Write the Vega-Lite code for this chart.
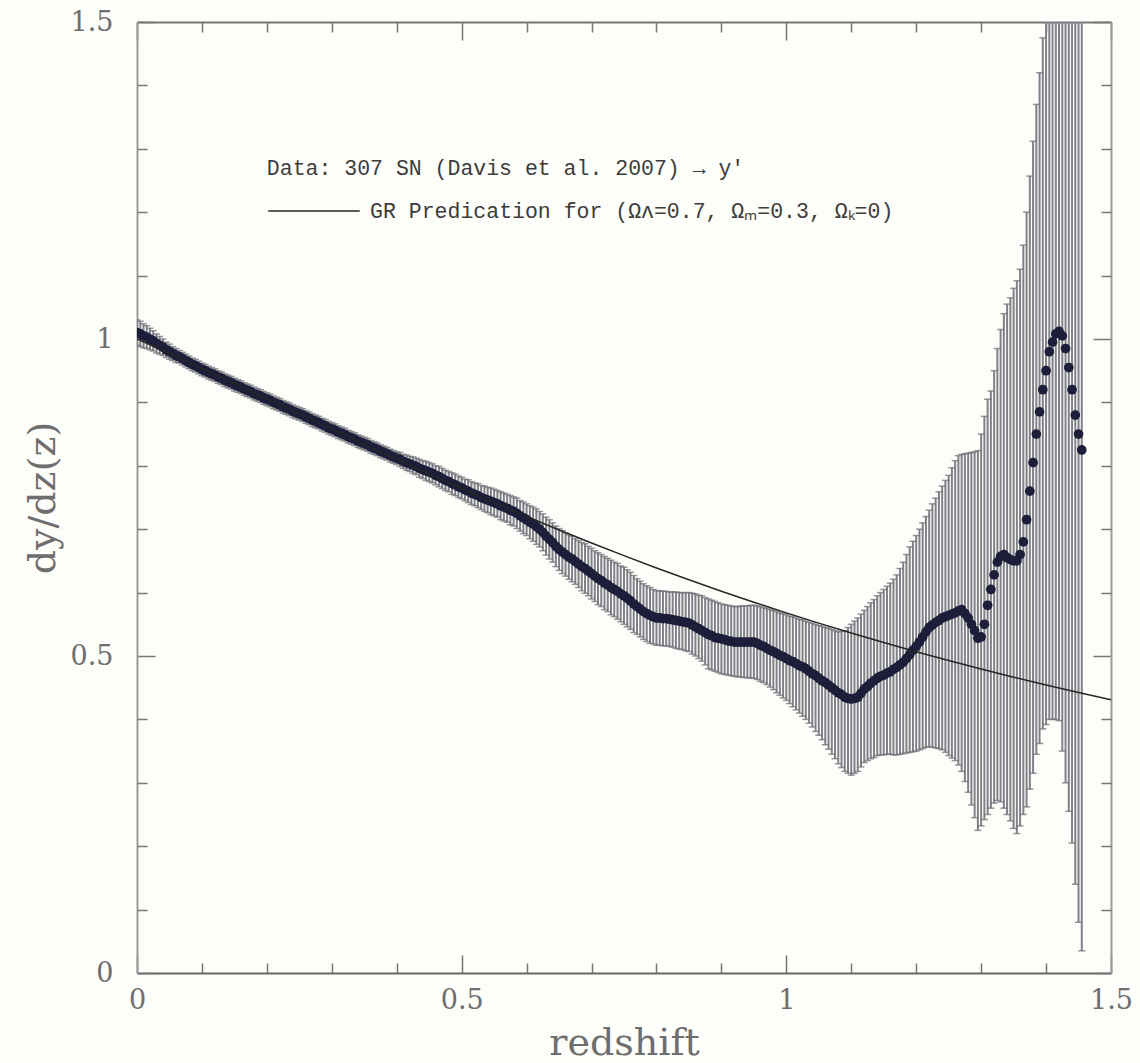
{
"$schema": "https://vega.github.io/schema/vega-lite/v6.json",
"width": 974, "height": 951,
"autosize": {"type": "none"},
"padding": {"left": 137, "top": 22, "right": 29, "bottom": 90},
"background": "#fdfdf9",
"config": {
  "view": {"stroke": null},
  "axis": {"labelFont": "DejaVu Serif", "titleFont": "DejaVu Serif", "labelFontSize": 27, "titleFontSize": 38, "labelColor": "#6e6e6e", "titleColor": "#6e6e6e", "titleFontWeight": "normal", "grid": false, "tickColor": "#777777", "tickWidth": 1.5, "domainColor": "#888888", "domainWidth": 2}
},
"datasets": {
"sn": [
{"z":0.000,"v":1.010,"lo":0.990,"hi":1.030},{"z":0.005,"v":1.008,"lo":0.988,"hi":1.028},{"z":0.010,"v":1.005,"lo":0.986,"hi":1.024},{"z":0.015,"v":1.003,"lo":0.985,"hi":1.021},{"z":0.020,"v":1.000,"lo":0.983,"hi":1.017},{"z":0.025,"v":0.997,"lo":0.981,"hi":1.013},{"z":0.030,"v":0.993,"lo":0.978,"hi":1.008},{"z":0.035,"v":0.990,"lo":0.976,"hi":1.004},{"z":0.040,"v":0.987,"lo":0.974,"hi":1.000},{"z":0.045,"v":0.983,"lo":0.971,"hi":0.995},
{"z":0.050,"v":0.980,"lo":0.968,"hi":0.992},{"z":0.055,"v":0.977,"lo":0.966,"hi":0.988},{"z":0.060,"v":0.974,"lo":0.963,"hi":0.985},{"z":0.065,"v":0.972,"lo":0.962,"hi":0.982},{"z":0.070,"v":0.969,"lo":0.959,"hi":0.979},{"z":0.075,"v":0.966,"lo":0.956,"hi":0.976},{"z":0.080,"v":0.963,"lo":0.953,"hi":0.973},{"z":0.085,"v":0.960,"lo":0.950,"hi":0.970},{"z":0.090,"v":0.958,"lo":0.948,"hi":0.968},{"z":0.095,"v":0.955,"lo":0.945,"hi":0.965},
{"z":0.100,"v":0.952,"lo":0.942,"hi":0.962},{"z":0.105,"v":0.950,"lo":0.940,"hi":0.960},{"z":0.110,"v":0.947,"lo":0.937,"hi":0.957},{"z":0.115,"v":0.945,"lo":0.935,"hi":0.955},{"z":0.120,"v":0.943,"lo":0.933,"hi":0.953},{"z":0.125,"v":0.940,"lo":0.930,"hi":0.950},{"z":0.130,"v":0.938,"lo":0.928,"hi":0.948},{"z":0.135,"v":0.935,"lo":0.925,"hi":0.945},{"z":0.140,"v":0.933,"lo":0.923,"hi":0.943},{"z":0.145,"v":0.931,"lo":0.921,"hi":0.941},
{"z":0.150,"v":0.928,"lo":0.918,"hi":0.938},{"z":0.155,"v":0.926,"lo":0.916,"hi":0.936},{"z":0.160,"v":0.924,"lo":0.914,"hi":0.934},{"z":0.165,"v":0.921,"lo":0.911,"hi":0.931},{"z":0.170,"v":0.919,"lo":0.909,"hi":0.929},{"z":0.175,"v":0.917,"lo":0.907,"hi":0.927},{"z":0.180,"v":0.914,"lo":0.904,"hi":0.924},{"z":0.185,"v":0.912,"lo":0.902,"hi":0.922},{"z":0.190,"v":0.910,"lo":0.900,"hi":0.920},{"z":0.195,"v":0.907,"lo":0.897,"hi":0.917},
{"z":0.200,"v":0.905,"lo":0.895,"hi":0.915},{"z":0.205,"v":0.903,"lo":0.893,"hi":0.913},{"z":0.210,"v":0.900,"lo":0.890,"hi":0.910},{"z":0.215,"v":0.898,"lo":0.888,"hi":0.908},{"z":0.220,"v":0.896,"lo":0.886,"hi":0.906},{"z":0.225,"v":0.893,"lo":0.883,"hi":0.903},{"z":0.230,"v":0.891,"lo":0.881,"hi":0.901},{"z":0.235,"v":0.889,"lo":0.879,"hi":0.899},{"z":0.240,"v":0.886,"lo":0.876,"hi":0.896},{"z":0.245,"v":0.884,"lo":0.874,"hi":0.894},
{"z":0.250,"v":0.882,"lo":0.872,"hi":0.892},{"z":0.255,"v":0.880,"lo":0.870,"hi":0.890},{"z":0.260,"v":0.877,"lo":0.867,"hi":0.887},{"z":0.265,"v":0.875,"lo":0.865,"hi":0.885},{"z":0.270,"v":0.872,"lo":0.862,"hi":0.882},{"z":0.275,"v":0.870,"lo":0.860,"hi":0.880},{"z":0.280,"v":0.868,"lo":0.858,"hi":0.878},{"z":0.285,"v":0.865,"lo":0.855,"hi":0.875},{"z":0.290,"v":0.863,"lo":0.853,"hi":0.873},{"z":0.295,"v":0.860,"lo":0.850,"hi":0.870},
{"z":0.300,"v":0.858,"lo":0.848,"hi":0.868},{"z":0.305,"v":0.856,"lo":0.846,"hi":0.866},{"z":0.310,"v":0.853,"lo":0.843,"hi":0.863},{"z":0.315,"v":0.851,"lo":0.841,"hi":0.861},{"z":0.320,"v":0.849,"lo":0.839,"hi":0.859},{"z":0.325,"v":0.846,"lo":0.836,"hi":0.856},{"z":0.330,"v":0.844,"lo":0.834,"hi":0.854},{"z":0.335,"v":0.842,"lo":0.832,"hi":0.852},{"z":0.340,"v":0.839,"lo":0.829,"hi":0.849},{"z":0.345,"v":0.837,"lo":0.827,"hi":0.847},
{"z":0.350,"v":0.835,"lo":0.825,"hi":0.845},{"z":0.355,"v":0.833,"lo":0.823,"hi":0.843},{"z":0.360,"v":0.830,"lo":0.820,"hi":0.840},{"z":0.365,"v":0.828,"lo":0.818,"hi":0.838},{"z":0.370,"v":0.826,"lo":0.816,"hi":0.836},{"z":0.375,"v":0.823,"lo":0.813,"hi":0.833},{"z":0.380,"v":0.821,"lo":0.811,"hi":0.831},{"z":0.385,"v":0.819,"lo":0.809,"hi":0.829},{"z":0.390,"v":0.816,"lo":0.806,"hi":0.826},{"z":0.395,"v":0.814,"lo":0.804,"hi":0.824},
{"z":0.400,"v":0.812,"lo":0.802,"hi":0.822},{"z":0.405,"v":0.810,"lo":0.799,"hi":0.821},{"z":0.410,"v":0.807,"lo":0.796,"hi":0.818},{"z":0.415,"v":0.805,"lo":0.793,"hi":0.817},{"z":0.420,"v":0.803,"lo":0.791,"hi":0.815},{"z":0.425,"v":0.801,"lo":0.788,"hi":0.814},{"z":0.430,"v":0.799,"lo":0.786,"hi":0.812},{"z":0.435,"v":0.796,"lo":0.782,"hi":0.810},{"z":0.440,"v":0.794,"lo":0.780,"hi":0.808},{"z":0.445,"v":0.792,"lo":0.777,"hi":0.807},
{"z":0.450,"v":0.790,"lo":0.775,"hi":0.805},{"z":0.455,"v":0.788,"lo":0.773,"hi":0.803},{"z":0.460,"v":0.785,"lo":0.770,"hi":0.800},{"z":0.465,"v":0.783,"lo":0.767,"hi":0.799},{"z":0.470,"v":0.780,"lo":0.764,"hi":0.796},{"z":0.475,"v":0.777,"lo":0.761,"hi":0.793},{"z":0.480,"v":0.775,"lo":0.759,"hi":0.791},{"z":0.485,"v":0.772,"lo":0.755,"hi":0.789},{"z":0.490,"v":0.770,"lo":0.753,"hi":0.787},{"z":0.495,"v":0.767,"lo":0.750,"hi":0.784},
{"z":0.500,"v":0.765,"lo":0.748,"hi":0.782},{"z":0.505,"v":0.762,"lo":0.745,"hi":0.779},{"z":0.510,"v":0.760,"lo":0.742,"hi":0.778},{"z":0.515,"v":0.757,"lo":0.739,"hi":0.775},{"z":0.520,"v":0.755,"lo":0.737,"hi":0.773},{"z":0.525,"v":0.753,"lo":0.734,"hi":0.772},{"z":0.530,"v":0.750,"lo":0.731,"hi":0.769},{"z":0.535,"v":0.748,"lo":0.728,"hi":0.768},{"z":0.540,"v":0.746,"lo":0.726,"hi":0.766},{"z":0.545,"v":0.744,"lo":0.723,"hi":0.765},
{"z":0.550,"v":0.742,"lo":0.721,"hi":0.763},{"z":0.555,"v":0.740,"lo":0.719,"hi":0.761},{"z":0.560,"v":0.737,"lo":0.715,"hi":0.759},{"z":0.565,"v":0.735,"lo":0.713,"hi":0.757},{"z":0.570,"v":0.733,"lo":0.711,"hi":0.755},{"z":0.575,"v":0.730,"lo":0.707,"hi":0.753},{"z":0.580,"v":0.728,"lo":0.705,"hi":0.751},{"z":0.585,"v":0.725,"lo":0.701,"hi":0.749},{"z":0.590,"v":0.721,"lo":0.697,"hi":0.745},{"z":0.595,"v":0.718,"lo":0.693,"hi":0.743},
{"z":0.600,"v":0.715,"lo":0.690,"hi":0.740},{"z":0.605,"v":0.711,"lo":0.685,"hi":0.737},{"z":0.610,"v":0.708,"lo":0.681,"hi":0.735},{"z":0.615,"v":0.704,"lo":0.676,"hi":0.732},{"z":0.620,"v":0.700,"lo":0.672,"hi":0.728},{"z":0.625,"v":0.695,"lo":0.666,"hi":0.724},{"z":0.630,"v":0.689,"lo":0.659,"hi":0.719},{"z":0.635,"v":0.684,"lo":0.653,"hi":0.715},{"z":0.640,"v":0.679,"lo":0.648,"hi":0.710},{"z":0.645,"v":0.673,"lo":0.641,"hi":0.705},
{"z":0.650,"v":0.668,"lo":0.635,"hi":0.701},{"z":0.655,"v":0.664,"lo":0.630,"hi":0.698},{"z":0.660,"v":0.660,"lo":0.626,"hi":0.694},{"z":0.665,"v":0.656,"lo":0.621,"hi":0.691},{"z":0.670,"v":0.653,"lo":0.617,"hi":0.689},{"z":0.675,"v":0.649,"lo":0.613,"hi":0.685},{"z":0.680,"v":0.645,"lo":0.608,"hi":0.682},{"z":0.685,"v":0.641,"lo":0.603,"hi":0.679},{"z":0.690,"v":0.638,"lo":0.599,"hi":0.677},{"z":0.695,"v":0.634,"lo":0.595,"hi":0.673},
{"z":0.700,"v":0.630,"lo":0.590,"hi":0.670},{"z":0.705,"v":0.626,"lo":0.586,"hi":0.666},{"z":0.710,"v":0.622,"lo":0.581,"hi":0.663},{"z":0.715,"v":0.619,"lo":0.578,"hi":0.660},{"z":0.720,"v":0.615,"lo":0.573,"hi":0.657},{"z":0.725,"v":0.612,"lo":0.570,"hi":0.654},{"z":0.730,"v":0.608,"lo":0.565,"hi":0.651},{"z":0.735,"v":0.605,"lo":0.562,"hi":0.648},{"z":0.740,"v":0.602,"lo":0.558,"hi":0.646},{"z":0.745,"v":0.598,"lo":0.554,"hi":0.642},
{"z":0.750,"v":0.595,"lo":0.550,"hi":0.640},{"z":0.755,"v":0.591,"lo":0.546,"hi":0.636},{"z":0.760,"v":0.587,"lo":0.542,"hi":0.632},{"z":0.765,"v":0.582,"lo":0.537,"hi":0.627},{"z":0.770,"v":0.578,"lo":0.534,"hi":0.622},{"z":0.775,"v":0.574,"lo":0.530,"hi":0.618},{"z":0.780,"v":0.570,"lo":0.526,"hi":0.614},{"z":0.785,"v":0.567,"lo":0.523,"hi":0.611},{"z":0.790,"v":0.564,"lo":0.520,"hi":0.608},{"z":0.795,"v":0.562,"lo":0.519,"hi":0.605},
{"z":0.800,"v":0.560,"lo":0.517,"hi":0.603},{"z":0.805,"v":0.560,"lo":0.517,"hi":0.603},{"z":0.810,"v":0.559,"lo":0.516,"hi":0.602},{"z":0.815,"v":0.559,"lo":0.516,"hi":0.602},{"z":0.820,"v":0.558,"lo":0.515,"hi":0.601},{"z":0.825,"v":0.557,"lo":0.514,"hi":0.601},{"z":0.830,"v":0.556,"lo":0.512,"hi":0.601},{"z":0.835,"v":0.555,"lo":0.511,"hi":0.600},{"z":0.840,"v":0.554,"lo":0.510,"hi":0.600},{"z":0.845,"v":0.553,"lo":0.508,"hi":0.600},
{"z":0.850,"v":0.552,"lo":0.507,"hi":0.600},{"z":0.855,"v":0.549,"lo":0.503,"hi":0.599},{"z":0.860,"v":0.546,"lo":0.500,"hi":0.598},{"z":0.865,"v":0.543,"lo":0.496,"hi":0.596},{"z":0.870,"v":0.540,"lo":0.492,"hi":0.595},{"z":0.875,"v":0.537,"lo":0.486,"hi":0.592},{"z":0.880,"v":0.534,"lo":0.480,"hi":0.590},{"z":0.885,"v":0.532,"lo":0.478,"hi":0.588},{"z":0.890,"v":0.529,"lo":0.476,"hi":0.586},{"z":0.895,"v":0.528,"lo":0.474,"hi":0.584},
{"z":0.900,"v":0.527,"lo":0.472,"hi":0.582},{"z":0.905,"v":0.526,"lo":0.471,"hi":0.581},{"z":0.910,"v":0.524,"lo":0.470,"hi":0.580},{"z":0.915,"v":0.523,"lo":0.469,"hi":0.579},{"z":0.920,"v":0.522,"lo":0.468,"hi":0.578},{"z":0.925,"v":0.522,"lo":0.467,"hi":0.578},{"z":0.930,"v":0.522,"lo":0.467,"hi":0.579},{"z":0.935,"v":0.522,"lo":0.466,"hi":0.579},{"z":0.940,"v":0.522,"lo":0.466,"hi":0.579},{"z":0.945,"v":0.522,"lo":0.465,"hi":0.580},
{"z":0.950,"v":0.522,"lo":0.465,"hi":0.580},{"z":0.955,"v":0.520,"lo":0.463,"hi":0.579},{"z":0.960,"v":0.517,"lo":0.460,"hi":0.578},{"z":0.965,"v":0.515,"lo":0.458,"hi":0.576},{"z":0.970,"v":0.512,"lo":0.455,"hi":0.575},{"z":0.975,"v":0.509,"lo":0.451,"hi":0.573},{"z":0.980,"v":0.507,"lo":0.447,"hi":0.572},{"z":0.985,"v":0.504,"lo":0.442,"hi":0.570},{"z":0.990,"v":0.501,"lo":0.438,"hi":0.568},{"z":0.995,"v":0.499,"lo":0.434,"hi":0.567},
{"z":1.000,"v":0.496,"lo":0.430,"hi":0.565},{"z":1.005,"v":0.493,"lo":0.425,"hi":0.563},{"z":1.010,"v":0.491,"lo":0.420,"hi":0.562},{"z":1.015,"v":0.488,"lo":0.415,"hi":0.560},{"z":1.020,"v":0.485,"lo":0.410,"hi":0.558},{"z":1.025,"v":0.483,"lo":0.405,"hi":0.557},{"z":1.030,"v":0.480,"lo":0.400,"hi":0.555},{"z":1.035,"v":0.476,"lo":0.394,"hi":0.553},{"z":1.040,"v":0.472,"lo":0.388,"hi":0.552},{"z":1.045,"v":0.469,"lo":0.381,"hi":0.550},
{"z":1.050,"v":0.465,"lo":0.375,"hi":0.548},{"z":1.055,"v":0.461,"lo":0.368,"hi":0.547},{"z":1.060,"v":0.458,"lo":0.360,"hi":0.545},{"z":1.065,"v":0.454,"lo":0.353,"hi":0.544},{"z":1.070,"v":0.450,"lo":0.345,"hi":0.542},{"z":1.075,"v":0.446,"lo":0.338,"hi":0.540},{"z":1.080,"v":0.442,"lo":0.330,"hi":0.538},{"z":1.085,"v":0.439,"lo":0.324,"hi":0.539},{"z":1.090,"v":0.435,"lo":0.318,"hi":0.540},{"z":1.095,"v":0.433,"lo":0.315,"hi":0.545},
{"z":1.100,"v":0.432,"lo":0.312,"hi":0.550},{"z":1.105,"v":0.433,"lo":0.315,"hi":0.555},{"z":1.110,"v":0.435,"lo":0.318,"hi":0.560},{"z":1.115,"v":0.441,"lo":0.325,"hi":0.566},{"z":1.120,"v":0.448,"lo":0.332,"hi":0.572},{"z":1.125,"v":0.452,"lo":0.335,"hi":0.578},{"z":1.130,"v":0.457,"lo":0.338,"hi":0.584},{"z":1.135,"v":0.461,"lo":0.340,"hi":0.589},{"z":1.140,"v":0.465,"lo":0.343,"hi":0.595},{"z":1.145,"v":0.468,"lo":0.344,"hi":0.600},
{"z":1.150,"v":0.470,"lo":0.344,"hi":0.605},{"z":1.155,"v":0.473,"lo":0.345,"hi":0.610},{"z":1.160,"v":0.475,"lo":0.345,"hi":0.615},{"z":1.165,"v":0.479,"lo":0.344,"hi":0.621},{"z":1.170,"v":0.482,"lo":0.344,"hi":0.628},{"z":1.175,"v":0.486,"lo":0.345,"hi":0.638},{"z":1.180,"v":0.490,"lo":0.346,"hi":0.648},{"z":1.185,"v":0.496,"lo":0.347,"hi":0.660},{"z":1.190,"v":0.502,"lo":0.348,"hi":0.672},{"z":1.195,"v":0.509,"lo":0.349,"hi":0.681},
{"z":1.200,"v":0.515,"lo":0.350,"hi":0.690},{"z":1.205,"v":0.522,"lo":0.352,"hi":0.700},{"z":1.210,"v":0.530,"lo":0.354,"hi":0.710},{"z":1.215,"v":0.538,"lo":0.356,"hi":0.720},{"z":1.220,"v":0.545,"lo":0.357,"hi":0.730},{"z":1.225,"v":0.549,"lo":0.356,"hi":0.740},{"z":1.230,"v":0.553,"lo":0.355,"hi":0.749},{"z":1.235,"v":0.556,"lo":0.354,"hi":0.759},{"z":1.240,"v":0.560,"lo":0.352,"hi":0.768},{"z":1.245,"v":0.562,"lo":0.348,"hi":0.777},
{"z":1.250,"v":0.564,"lo":0.343,"hi":0.785},{"z":1.255,"v":0.566,"lo":0.339,"hi":0.797},{"z":1.260,"v":0.568,"lo":0.335,"hi":0.808},{"z":1.265,"v":0.571,"lo":0.328,"hi":0.816},{"z":1.270,"v":0.573,"lo":0.318,"hi":0.818},{"z":1.275,"v":0.567,"lo":0.302,"hi":0.819},{"z":1.280,"v":0.560,"lo":0.285,"hi":0.820},{"z":1.285,"v":0.550,"lo":0.265,"hi":0.821},{"z":1.290,"v":0.540,"lo":0.245,"hi":0.822},{"z":1.295,"v":0.528,"lo":0.225,"hi":0.824},
{"z":1.300,"v":0.530,"lo":0.232,"hi":0.850},{"z":1.305,"v":0.550,"lo":0.242,"hi":0.878},{"z":1.310,"v":0.580,"lo":0.250,"hi":0.905},{"z":1.315,"v":0.605,"lo":0.260,"hi":0.918},{"z":1.320,"v":0.628,"lo":0.268,"hi":0.950},{"z":1.325,"v":0.648,"lo":0.272,"hi":0.985},{"z":1.330,"v":0.657,"lo":0.270,"hi":1.015},{"z":1.335,"v":0.660,"lo":0.260,"hi":1.040},{"z":1.340,"v":0.655,"lo":0.250,"hi":1.055},{"z":1.345,"v":0.652,"lo":0.240,"hi":1.065},
{"z":1.350,"v":0.650,"lo":0.228,"hi":1.080},{"z":1.355,"v":0.650,"lo":0.220,"hi":1.092},{"z":1.360,"v":0.660,"lo":0.232,"hi":1.110},{"z":1.365,"v":0.680,"lo":0.250,"hi":1.148},{"z":1.370,"v":0.715,"lo":0.262,"hi":1.200},{"z":1.375,"v":0.760,"lo":0.290,"hi":1.257},{"z":1.380,"v":0.805,"lo":0.315,"hi":1.312},{"z":1.385,"v":0.850,"lo":0.345,"hi":1.370},{"z":1.390,"v":0.885,"lo":0.362,"hi":1.420},{"z":1.395,"v":0.920,"lo":0.385,"hi":1.475},
{"z":1.400,"v":0.950,"lo":0.392,"hi":1.550},{"z":1.405,"v":0.980,"lo":0.400,"hi":1.650},{"z":1.410,"v":0.995,"lo":0.400,"hi":1.750},{"z":1.415,"v":1.008,"lo":0.400,"hi":1.850},{"z":1.420,"v":1.012,"lo":0.398,"hi":1.950},{"z":1.425,"v":1.005,"lo":0.350,"hi":2.000},{"z":1.430,"v":0.985,"lo":0.300,"hi":2.000},{"z":1.435,"v":0.955,"lo":0.255,"hi":2.000},{"z":1.440,"v":0.920,"lo":0.205,"hi":2.000},{"z":1.445,"v":0.880,"lo":0.140,"hi":2.000},
{"z":1.450,"v":0.850,"lo":0.080,"hi":2.000},{"z":1.455,"v":0.825,"lo":0.035,"hi":2.000}
],
"gr": [
{"z":0.00,"v":1.0000},{"z":0.05,"v":0.9772},{"z":0.10,"v":0.9538},{"z":0.15,"v":0.9300},{"z":0.20,"v":0.9060},{"z":0.25,"v":0.8818},{"z":0.30,"v":0.8578},{"z":0.35,"v":0.8339},{"z":0.40,"v":0.8103},{"z":0.45,"v":0.7870},{"z":0.50,"v":0.7642},{"z":0.55,"v":0.7418},{"z":0.60,"v":0.7200},{"z":0.65,"v":0.6988},{"z":0.70,"v":0.6782},{"z":0.75,"v":0.6583},{"z":0.80,"v":0.6389},{"z":0.85,"v":0.6202},{"z":0.90,"v":0.6022},{"z":0.95,"v":0.5848},{"z":1.00,"v":0.5680},{"z":1.05,"v":0.5518},{"z":1.10,"v":0.5362},{"z":1.15,"v":0.5212},{"z":1.20,"v":0.5067},{"z":1.25,"v":0.4928},{"z":1.30,"v":0.4795},{"z":1.35,"v":0.4666},{"z":1.40,"v":0.4542},{"z":1.45,"v":0.4423},{"z":1.50,"v":0.4308}
]
},
"layer": [
{"data": {"name": "sn"},
 "mark": {"type": "rule", "color": "#808089", "strokeWidth": 2, "clip": true},
 "encoding": {
  "x": {"field": "z", "type": "quantitative", "scale": {"domain": [0, 1.5], "nice": false},
        "axis": {"orient": "bottom", "values": [0, 0.5, 1, 1.5], "format": "~g", "tickSize": -18, "labelPadding": 32, "labelFlush": false, "domain": true, "domainColor": "#666666", "title": "redshift", "titlePadding": 11}},
  "y": {"field": "lo", "type": "quantitative", "scale": {"domain": [0, 1.5], "nice": false},
        "axis": {"orient": "left", "values": [0, 0.5, 1, 1.5], "format": "~g", "tickSize": -18, "labelPadding": 42, "domain": true, "domainColor": "#999999", "title": "dy/dz(z)", "titlePadding": 8}},
  "y2": {"field": "hi"}
 }},
{"data": {"name": "sn"},
 "mark": {"type": "tick", "orient": "horizontal", "color": "#6c6c74", "size": 7, "thickness": 1.5, "clip": true},
 "encoding": {
  "x": {"field": "z", "type": "quantitative", "scale": {"domain": [0, 1.5], "nice": false},
        "axis": {"orient": "bottom", "values": [0.1, 0.2, 0.3, 0.4, 0.6, 0.7, 0.8, 0.9, 1.1, 1.2, 1.3, 1.4], "tickSize": -10, "labels": false, "domain": false, "title": null}},
  "y": {"field": "lo", "type": "quantitative", "scale": {"domain": [0, 1.5], "nice": false},
        "axis": {"orient": "left", "values": [0.1, 0.2, 0.3, 0.4, 0.6, 0.7, 0.8, 0.9, 1.1, 1.2, 1.3, 1.4], "tickSize": -10, "labels": false, "domain": false, "title": null}}
 }},
{"data": {"name": "sn"},
 "mark": {"type": "tick", "orient": "horizontal", "color": "#6c6c74", "size": 7, "thickness": 1.5, "clip": true},
 "encoding": {
  "x": {"field": "z", "type": "quantitative", "scale": {"domain": [0, 1.5], "nice": false},
        "axis": {"orient": "top", "values": [0, 0.5, 1, 1.5], "tickSize": -18, "labels": false, "domain": true, "domainColor": "#777777", "title": null}},
  "y": {"field": "hi", "type": "quantitative", "scale": {"domain": [0, 1.5], "nice": false},
        "axis": {"orient": "right", "values": [0, 0.5, 1, 1.5], "tickSize": -18, "labels": false, "domain": true, "domainColor": "#999999", "title": null}}
 }},
{"data": {"name": "sn"},
 "mark": {"type": "point", "filled": true, "shape": "circle", "color": "#1d1f3a", "size": 95, "opacity": 1, "clip": true},
 "encoding": {
  "x": {"field": "z", "type": "quantitative", "scale": {"domain": [0, 1.5], "nice": false},
        "axis": {"orient": "top", "values": [0.1, 0.2, 0.3, 0.4, 0.6, 0.7, 0.8, 0.9, 1.1, 1.2, 1.3, 1.4], "tickSize": -10, "labels": false, "domain": false, "title": null}},
  "y": {"field": "v", "type": "quantitative", "scale": {"domain": [0, 1.5], "nice": false},
        "axis": {"orient": "right", "values": [0.1, 0.2, 0.3, 0.4, 0.6, 0.7, 0.8, 0.9, 1.1, 1.2, 1.3, 1.4], "tickSize": -10, "labels": false, "domain": false, "title": null}}
 }},
{"data": {"name": "gr"},
 "mark": {"type": "line", "color": "#262626", "strokeWidth": 1.5, "clip": true},
 "encoding": {
  "x": {"field": "z", "type": "quantitative", "axis": null},
  "y": {"field": "v", "type": "quantitative", "axis": null}
 }},
{"data": {"values": [{}]},
 "mark": {"type": "rule", "color": "#262626", "strokeWidth": 1.5},
 "encoding": {
  "x": {"datum": 0.202, "type": "quantitative", "axis": null},
  "x2": {"datum": 0.343},
  "y": {"datum": 1.202, "type": "quantitative", "axis": null}
 }},
{"data": {"values": [{}]},
 "mark": {"type": "text", "text": "Data: 307 SN (Davis et al. 2007) → y′", "font": "Liberation Mono", "fontSize": 21.5, "color": "#3c3c3c", "align": "left", "baseline": "alphabetic"},
 "encoding": {
  "x": {"datum": 0.2, "type": "quantitative", "axis": null},
  "y": {"datum": 1.258, "type": "quantitative", "axis": null}
 }},
{"data": {"values": [{}]},
 "mark": {"type": "text", "text": "GR Predication for (Ωᴧ=0.7, Ωₘ=0.3, Ωₖ=0)", "font": "Liberation Mono", "fontSize": 21.5, "color": "#3c3c3c", "align": "left", "baseline": "alphabetic"},
 "encoding": {
  "x": {"datum": 0.359, "type": "quantitative", "axis": null},
  "y": {"datum": 1.191, "type": "quantitative", "axis": null}
 }}
],
"resolve": {"axis": {"x": "independent", "y": "independent"}}
}
